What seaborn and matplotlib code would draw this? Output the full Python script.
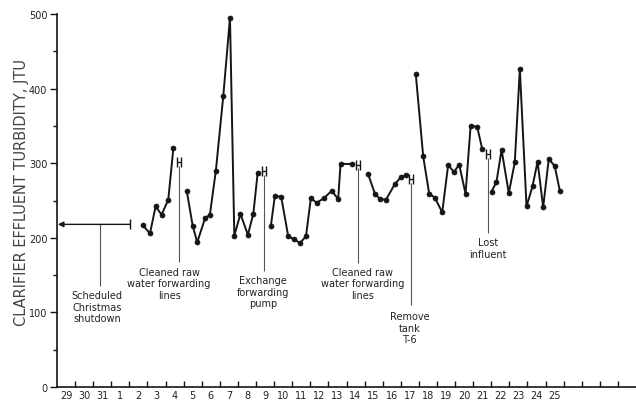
import numpy as np
import pandas as pd
import matplotlib
matplotlib.use("Agg")
import matplotlib.pyplot as plt
import seaborn as sns

# x is measured in days from the left edge of the axis; day i spans [i, i+1]
day_labels = ["29", "30", "31"] + [str(d) for d in range(1, 26)]

# runs of 8-hour readings, broken where an event interrupts the record
run1_day = [4.73, 5.14, 5.45, 5.78, 6.15, 6.43]
run1_jtu = [217, 206, 242, 231, 251, 320]

run2_day = [7.17, 7.50, 7.75, 8.18, 8.45, 8.78, 9.19, 9.56, 9.80, 10.14, 10.55, 10.85, 11.09]
run2_jtu = [263, 216, 194, 226, 231, 290, 390, 495, 203, 232, 204, 232, 287]

run3_day = [11.82, 12.04, 12.39, 12.78, 13.10, 13.43, 13.76, 14.03, 14.35, 14.75, 15.18, 15.54, 15.67, 16.28]
run3_jtu = [216, 256, 255, 202, 198, 193, 202, 253, 247, 253, 263, 252, 299, 299]

run4_day = [17.20, 17.57, 17.85, 18.18, 18.67, 19.00, 19.28]
run4_jtu = [285, 259, 252, 251, 272, 281, 284]

run5_day = [19.83, 20.24, 20.57, 20.88, 21.29, 21.62, 21.93, 22.23, 22.58, 22.86, 23.22, 23.50]
run5_jtu = [419, 309, 259, 254, 234, 298, 288, 298, 259, 350, 349, 319]

run6_day = [24.02, 24.29, 24.57, 24.97, 25.30, 25.58, 25.95, 26.28, 26.56, 26.87, 27.18, 27.51, 27.79]
run6_jtu = [262, 275, 318, 260, 301, 426, 242, 269, 302, 241, 306, 296, 263]

# event markers (the little H marks) and their notes
event_day = [6.76, 11.44, 16.65, 19.56, 23.83]
event_jtu = [301, 289, 298, 279, 312]
event_line_end = [168, 155, 166, 110, 206]
event_text = ["Cleaned raw\nwater forwarding\nlines",
              "Exchange\nforwarding\npump",
              "Cleaned raw\nwater forwarding\nlines",
              "Remove\ntank\nT-6",
              "Lost\ninfluent"]
event_text_day = [6.2, 11.4, 16.9, 19.5, 23.8]
event_text_top = [161, 150, 161, 102, 201]

shutdown_end = 4.03
shutdown_jtu = 218
shutdown_note_day = 2.38
shutdown_text = "Scheduled\nChristmas\nshutdown"

y_ticks = [0, 100, 200, 300, 400, 500]
y_minor = [50, 150, 250, 350, 450]

runs = [(run1_day, run1_jtu), (run2_day, run2_jtu), (run3_day, run3_jtu),
        (run4_day, run4_jtu), (run5_day, run5_jtu), (run6_day, run6_jtu)]
df = pd.concat([pd.DataFrame({"day": d, "jtu": v, "run": i})
                for i, (d, v) in enumerate(runs)], ignore_index=True)

sns.set_style("ticks")
plt.rcParams['font.family'] = ['DejaVu Sans']

fig = plt.figure(figsize=(6.36, 4.02), dpi=100)
ax = fig.add_axes([57 / 636, 14 / 402, 579 / 636, 373 / 402])

ink = "#151515"
sns.lineplot(data=df, x="day", y="jtu", units="run", estimator=None, sort=False,
             color=ink, linewidth=1.4, marker="o", markersize=3.6,
             markeredgecolor=ink, markeredgewidth=0.5, legend=False, ax=ax)

ax.errorbar(event_day, event_jtu, xerr=0.12, fmt="none", ecolor=ink,
            elinewidth=1.0, capsize=3.5, capthick=1.0)
ax.vlines(event_day, event_line_end, [v - 5 for v in event_jtu],
          colors="#555555", linewidth=0.8)
for xd, yt, s in zip(event_text_day, event_text_top, event_text):
    ax.text(xd, yt, s, ha="center", va="top", fontsize=7, color="#222222",
            linespacing=1.2, multialignment="center")

# shutdown arrow back to the axis
ax.annotate("", xy=(0.05, shutdown_jtu), xytext=(shutdown_end, shutdown_jtu),
            arrowprops=dict(arrowstyle="-|>", color=ink, lw=1.0, mutation_scale=8,
                            shrinkA=0, shrinkB=0))
ax.plot([shutdown_end], [shutdown_jtu], marker="|", markersize=7, color=ink, mew=1.0)
ax.vlines([shutdown_note_day], 135, shutdown_jtu, colors="#555555", linewidth=0.8)
ax.text(2.21, 130, shutdown_text, ha="center", va="top", fontsize=7,
        color="#222222", linespacing=1.2, multialignment="center")

ax.set_xlim(0, 32)
ax.set_ylim(0, 500)
sns.despine(ax=ax)
for sp in ["left", "bottom"]:
    ax.spines[sp].set_linewidth(1.2)
    ax.spines[sp].set_color(ink)

ax.set_xticks(np.arange(1, 32))
ax.set_xticks(np.arange(len(day_labels)) + 0.5, minor=True)
ax.set_xticklabels(day_labels, minor=True)
ax.tick_params(axis="x", which="major", direction="in", length=4, width=1,
               labelbottom=False, color=ink)
ax.tick_params(axis="x", which="minor", length=0, pad=2, labelsize=7, labelcolor="#222222")

ax.set_yticks(y_ticks)
ax.set_yticks(y_minor, minor=True)
ax.tick_params(axis="y", which="major", direction="out", length=5, width=1,
               labelsize=7, pad=2, color=ink, labelcolor="#222222")
ax.tick_params(axis="y", which="minor", direction="out", length=3, width=1, color=ink)
ax.set_xlabel("")
ax.set_ylabel("")

fig.text(22 / 636, 1 - 193 / 402, "CLARIFIER EFFLUENT TURBIDITY, JTU",
         rotation=90, ha="center", va="center", fontsize=10.5, color="#444444")

fig.savefig("out.png", dpi=100)
